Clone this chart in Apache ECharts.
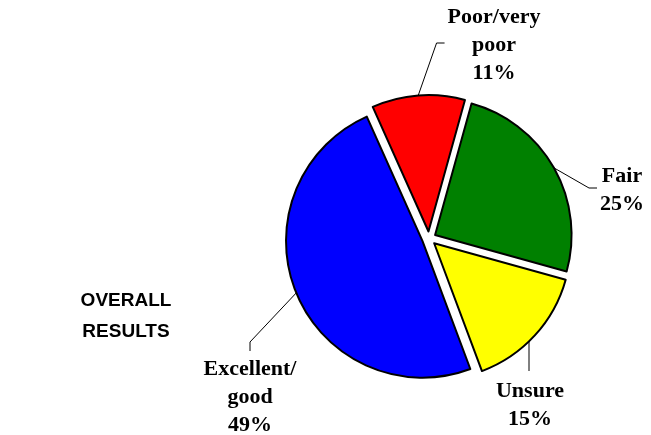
<!DOCTYPE html>
<html>
<head>
<meta charset="utf-8">
<script src="https://cdn.jsdelivr.net/npm/echarts@6/dist/echarts.min.js"></script>
<style>
html,body{margin:0;padding:0;background:#fff;}
#chart{width:651px;height:435px;}
</style>
</head>
<body>
<div id="chart"></div>
<script>
// Data
var categories = ['Fair', 'Unsure', 'Excellent/\ngood', 'Poor/very\npoor'];
var values = [25, 15, 49, 11];
var colors = ['#008000', '#FFFF00', '#0000FF', '#FF0000'];
var titleText = 'OVERALL\nRESULTS';

// Layout only
var pieCenter = [429, 238.5];
var pieRadius = 136.5;
var explode = 7;
var startAngle = 74.5;
var labelPlace = [
  {x: 622, y: 190, side: 'left'},
  {x: 530, y: 405, side: 'top'},
  {x: 250, y: 397, side: 'topBent'},
  {x: 494, y: 45, side: 'left'}
];

var chart = echarts.init(document.getElementById('chart'), null, {renderer: 'canvas'});

var total = values.reduce(function (s, v) { return s + v; }, 0);
var sliceCenters = [];

function labelLayoutFn(params) {
  var lp = labelPlace[params.dataIndex];
  if (!lp || !params.labelRect) return {};
  var w = params.labelRect.width, h = params.labelRect.height;
  var a = params.labelLinePoints ? params.labelLinePoints[0] : [lp.x, lp.y];
  var pts;
  if (lp.side === 'left') {
    var ex = lp.x - w / 2 - 3;
    pts = [a, [ex - 8, lp.y - 2], [ex, lp.y - 2]];
  } else if (lp.side === 'top') {
    var c = sliceCenters[params.seriesIndex];
    var lx = lp.x - 1;
    var ay = c[1] + Math.sqrt(Math.max(0, pieRadius * pieRadius - (lx - c[0]) * (lx - c[0])));
    var ty = lp.y - h / 2 - 6;
    pts = [[lx, ay], [lx, ty], [lx, ty]];
  } else {
    var ty2 = lp.y - h / 2 - 4;
    pts = [a, [lp.x, ty2 - 9], [lp.x, ty2]];
  }
  return {
    x: lp.x,
    y: lp.y,
    align: 'center',
    verticalAlign: 'middle',
    labelLinePoints: pts
  };
}

var series = [];
var cum = 0;
values.forEach(function (v, i) {
  var midDeg = startAngle - (cum + v / 2) / total * 360;
  cum += v;
  var rad = midDeg * Math.PI / 180;
  var c = [pieCenter[0] + explode * Math.cos(rad), pieCenter[1] - explode * Math.sin(rad)];
  sliceCenters.push(c);
  series.push({
    type: 'pie',
    center: c,
    radius: pieRadius,
    startAngle: startAngle,
    clockwise: true,
    silent: true,
    avoidLabelOverlap: false,
    emphasis: {disabled: true},
    label: {
      show: true,
      position: 'outside',
      formatter: function (p) { return p.name + '\n' + p.value + '%'; },
      fontFamily: 'Liberation Serif, Times New Roman, serif',
      fontWeight: 'bold',
      fontSize: 22,
      lineHeight: 28,
      color: '#000',
      align: 'center'
    },
    labelLine: {show: true, length: 20, length2: 10, lineStyle: {color: '#000', width: 1}},
    labelLayout: labelLayoutFn,
    data: categories.map(function (name, j) {
      if (j === i) {
        return {name: name, value: values[j], itemStyle: {color: colors[j], borderColor: '#000', borderWidth: 2}};
      }
      return {
        name: name, value: values[j],
        itemStyle: {color: 'rgba(0,0,0,0)', borderWidth: 0},
        label: {show: false},
        labelLine: {show: false}
      };
    })
  });
});

chart.setOption({
  animation: false,
  backgroundColor: '#ffffff',
  title: {
    text: titleText,
    left: 126,
    top: 285,
    padding: 0,
    textAlign: 'center',
    textStyle: {
      fontFamily: 'Liberation Sans, Arial, sans-serif',
      fontWeight: 'bold',
      fontSize: 19,
      lineHeight: 31,
      color: '#000'
    }
  },
  series: series
});
</script>
</body>
</html>
